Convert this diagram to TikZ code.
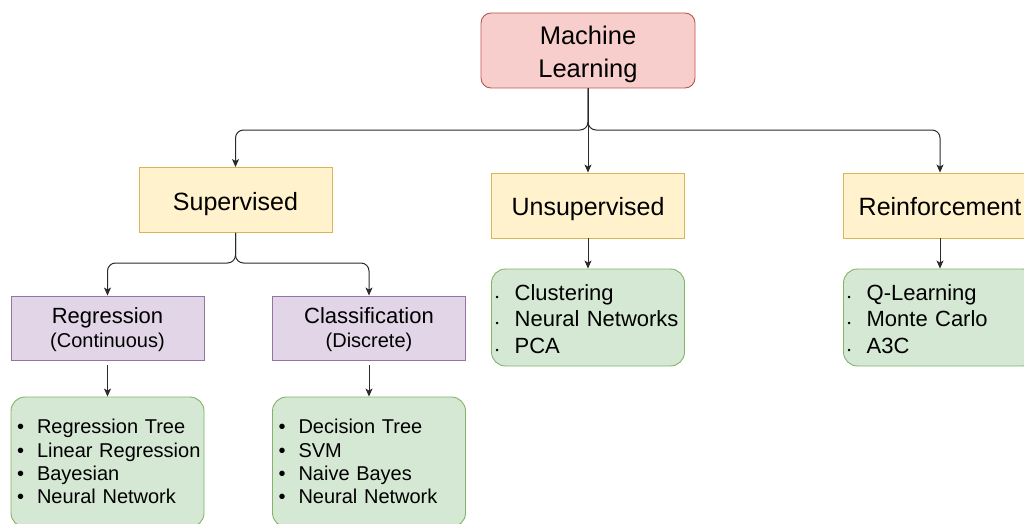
\documentclass[tikz,border=0pt]{standalone}
\usepackage{fontspec}
\setmainfont{Liberation Sans}
\usetikzlibrary{arrows.meta}

\definecolor{mlfill}{HTML}{F8CECC}
\definecolor{mlline}{HTML}{B85450}
\definecolor{catfill}{HTML}{FFF2CC}
\definecolor{catline}{HTML}{D6B656}
\definecolor{subfill}{HTML}{E1D5E7}
\definecolor{subline}{HTML}{9673A6}
\definecolor{listfill}{HTML}{D5E8D4}
\definecolor{listline}{HTML}{82B366}
\definecolor{wire}{HTML}{2A2A2A}

% small dot used in the compact lists
\newcommand{\smalldot}{{\fontsize{9}{9}\selectfont\textbullet}}
% lower a block of text without changing the space it claims
\newcommand{\shiftdown}[2]{\raisebox{-#1}[\height][\depth]{#2}}

\tikzset{
  box/.style={draw, line width=0.9pt, inner sep=0pt, align=center, text=black},
  mlbox/.style={box, fill=mlfill, draw=mlline, rounded corners=10pt,
    minimum width=214pt, minimum height=75pt, font=\fontsize{25.5}{33}\selectfont},
  catbox/.style={box, fill=catfill, draw=catline, text height=26pt, text depth=6pt,
    minimum width=193pt, minimum height=65pt, font=\fontsize{25}{30}\selectfont},
  subbox/.style={box, fill=subfill, draw=subline,
    minimum width=193pt, minimum height=64pt, font=\fontsize{22}{24}\selectfont},
  listbox/.style={box, fill=listfill, draw=listline, rounded corners=14pt,
    align=left, inner xsep=6pt, text width=181pt},
  biglist/.style={listbox, minimum height=130pt, font=\fontsize{20}{23.4}\selectfont},
  smalllist/.style={listbox, inner xsep=4pt, text width=185pt,
    minimum height=97pt, font=\fontsize{22}{26.7}\selectfont},
  conn/.style={draw=wire, line width=1pt, rounded corners=8pt,
    -{Stealth[length=8pt,width=7pt,inset=2pt]}},
}

\begin{document}
\begin{tikzpicture}[x=1pt,y=-1pt]
\useasboundingbox (0,0) rectangle (1024,524);
\clip (0,0) rectangle (1024,524);

% root
\node[mlbox] (ml) at (588,50.5)
  {\shiftdown{4.3pt}{\begin{tabular}{@{}c@{}}Machine\\Learning\end{tabular}}};

% learning paradigms
\node[catbox] (sup)  at (235.5,200) {Supervised};
\node[catbox] (uns)  at (588,205.5) {Unsupervised};
\node[catbox] (rein) at (940,205.5) {Reinforcement};

% supervised sub-types
\node[subbox] (reg) at (107.5,328)
  {\shiftdown{2.4pt}{\begin{tabular}{@{}c@{}}Regression\\{\fontsize{20}{24}\selectfont(Continuous)}\end{tabular}}};
\node[subbox] (cls) at (369,328)
  {\shiftdown{2.4pt}{\begin{tabular}{@{}c@{}}Classification\\{\fontsize{20}{24}\selectfont(Discrete)}\end{tabular}}};

% algorithm lists
\node[biglist] (lreg) at (107.5,462) {\shiftdown{2.2pt}{%
  \begin{tabular}{@{}l@{\hspace{13pt}}l@{}}
  \textbullet & Regression Tree\\
  \textbullet & Linear Regression\\
  \textbullet & Bayesian\\
  \textbullet & Neural Network
  \end{tabular}}};
\node[biglist] (lcls) at (369,462) {\shiftdown{2.2pt}{%
  \begin{tabular}{@{}l@{\hspace{13pt}}l@{}}
  \textbullet & Decision Tree\\
  \textbullet & SVM\\
  \textbullet & Naive Bayes\\
  \textbullet & Neural Network
  \end{tabular}}};
\node[smalllist] (luns) at (588,317.5) {\shiftdown{4pt}{%
  \begin{tabular}{@{}l@{\hspace{16pt}}l@{}}
  \smalldot & Clustering\\
  \smalldot & Neural Networks\\
  \smalldot & PCA
  \end{tabular}}};
\node[smalllist] (lrein) at (940,317.5) {\shiftdown{4pt}{%
  \begin{tabular}{@{}l@{\hspace{16pt}}l@{}}
  \smalldot & Q-Learning\\
  \smalldot & Monte Carlo\\
  \smalldot & A3C
  \end{tabular}}};

% branch points
\coordinate (j1) at (588,130);
\coordinate (j2) at (235.5,263);

% connectors
\draw[conn] (ml.south) -- (j1) -| (sup.north);
\draw[conn] (ml.south) -- (j1) -| (rein.north);
\draw[conn] (ml.south) -- (uns.north);

\draw[conn] (sup.south) -- (j2) -| (reg.north);
\draw[conn] (sup.south) -- (j2) -| (cls.north);

\draw[conn, shorten <=5pt] (reg.south) -- (lreg.north);
\draw[conn, shorten <=5pt] (cls.south) -- (lcls.north);
\draw[conn] (uns.south) -- (luns.north);
\draw[conn] (rein.south) -- (lrein.north);
\end{tikzpicture}
\end{document}
